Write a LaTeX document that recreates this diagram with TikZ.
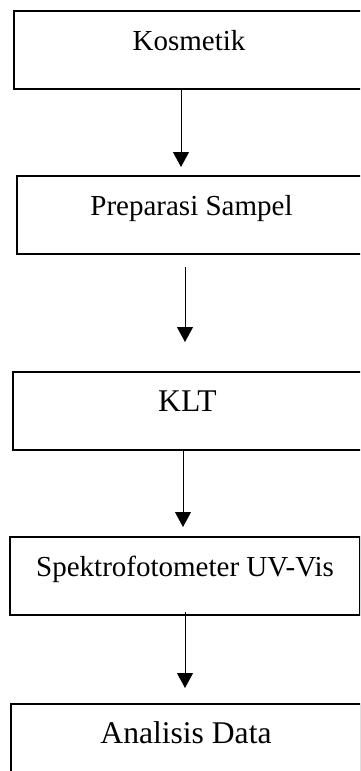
\documentclass[tikz,border=0pt]{standalone}
\usepackage{fontspec}
\setmainfont{Liberation Serif}
\usetikzlibrary{shapes,arrows.meta,positioning}

\begin{document}
\begin{tikzpicture}[%
    >={Triangle[width=8pt,length=7.5pt]}, % Solid arrow heads
    node distance=42.5pt,                 % Global setup of box spacing
    ]
% -------------------------------------------------
% Box styles
\tikzset{
  base/.style={draw, line width=1pt, rectangle, minimum width=175pt,
    inner ysep=0pt, text height=19.5pt, text depth=19.5pt, align=center},
  proc/.style={base, font={\fontsize{14.5}{17}\selectfont}},
  wide/.style={base, font={\fontsize{15.8}{18}\selectfont}},
  % -------------------------------------------------
  % Connector line style
  norm/.style={->, draw, line width=0.5pt},
}
% -------------------------------------------------
% Fix the frame of the picture (boxes run over the right edge)
\path[use as bounding box, clip] (0,0) rectangle (180pt,-385.5pt);
% -------------------------------------------------
% Place the boxes top to bottom
\node [proc] (kos) at (94.5pt,-25pt) {Kosmetik};
\node [proc, below=of kos, xshift=1.25pt] (prep) {Preparasi Sampel};
\node [wide, below=58pt of prep, xshift=-2pt] (klt) {KLT};
\node [proc, below=of klt, xshift=-1.25pt] (spek) {Spektrofotometer UV-Vis};
\node [wide, below=43.5pt of spek, xshift=0.5pt] (anal) {Analisis Data};
% -------------------------------------------------
% Connectors; they do not quite touch the boxes
\draw [norm, shorten >=4pt]
  ([xshift=-4pt]kos.south) -- ([xshift=-5.25pt]prep.north);
\draw [norm, shorten <=6pt, shorten >=14.5pt]
  ([xshift=-3.25pt]prep.south) -- ([xshift=-1.25pt]klt.north);
\draw [norm, shorten >=4.5pt]
  ([xshift=-2.25pt]klt.south) -- ([xshift=-1pt]spek.north);
\draw [norm, shorten <=-2pt, shorten >=7.5pt]
  (spek.south) -- ([xshift=-0.5pt]anal.north);
\end{tikzpicture}
\end{document}
